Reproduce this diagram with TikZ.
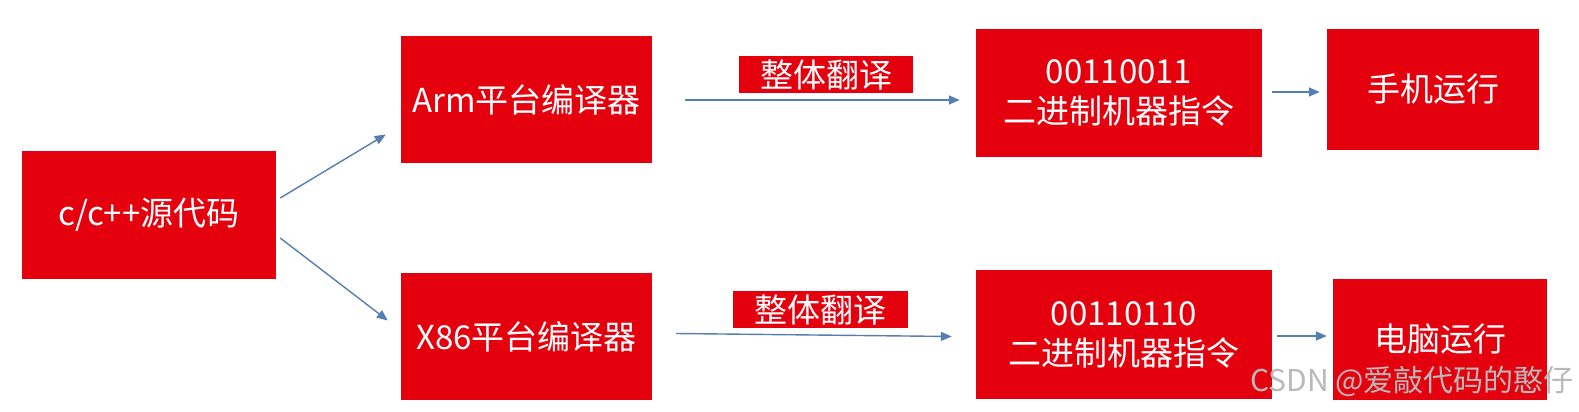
\documentclass[tikz,border=0pt]{standalone}
\usepackage{fontspec}
\setmainfont{Noto Sans CJK SC}
\usepackage{tikz}
\usetikzlibrary{arrows.meta}
\definecolor{boxred}{RGB}{229,0,14}
\definecolor{arrowblue}{RGB}{84,126,180}

\begin{document}
\begin{tikzpicture}[x=1pt,y=-1pt,
                redbox/.style={fill=boxred, text=white, inner sep=0pt, align=center,
                    font=\fontsize{33}{40}\selectfont},
                flow/.style={draw=arrowblue, line width=1.4pt, -{Triangle[length=11pt,width=9pt]}}]
                \useasboundingbox (0,0) rectangle (1579,412);
                \node[redbox, minimum width=254pt, minimum height=128pt] (src) at (149,215) {c/c++源代码};
                \node[redbox, minimum width=251pt, minimum height=127pt] (arm) at (526.5,99.5) {Arm平台编译器};
                \node[redbox, minimum width=251pt, minimum height=127pt] (x86) at (526.5,336.5) {X86平台编译器};
                \node[redbox, minimum width=174pt, minimum height=37pt] (armlabel) at (826,74.5) {整体翻译};
                \node[redbox, minimum width=175pt, minimum height=37pt] (x86label) at (820.5,309.5) {整体翻译};
                \node[redbox, minimum width=286pt, minimum height=128pt] (armbin) at (1119,93) {00110011\\二进制机器指令};
                \node[redbox, minimum width=296pt, minimum height=129pt] (x86bin) at (1124,334.5) {00110110\\二进制机器指令};
                \node[redbox, minimum width=212pt, minimum height=121pt] (phone) at (1433,89.5) {手机运行};
                \node[redbox, minimum width=214pt, minimum height=121pt] (pc) at (1440,339.5) {电脑运行};
                \draw[flow] ([shift={(4,-17)}]src.east) -- ([shift={(-15,35)}]arm.west);
                \draw[flow] ([shift={(4,23)}]src.east) -- ([shift={(-13,-16)}]x86.west);
                \draw[flow] ([shift={(33,0.5)}]arm.east) -- ([shift={(-16,7)}]armbin.west);
                \draw[flow] ([shift={(24,-3)}]x86.east) -- ([shift={(-24,2)}]x86bin.west);
                \draw[flow] ([shift={(10,-1)}]armbin.east) -- ([shift={(-7,2.5)}]phone.west);
                \draw[flow] ([shift={(5,1.5)}]x86bin.east) -- ([shift={(-6,-3.5)}]pc.west);
                \node[anchor=east, text=gray!55, font=\fontsize{30}{34}\selectfont, inner sep=0pt] (mark) at (1574,381) {CSDN @爱敲代码的憨仔};
            \end{tikzpicture}
\end{document}
